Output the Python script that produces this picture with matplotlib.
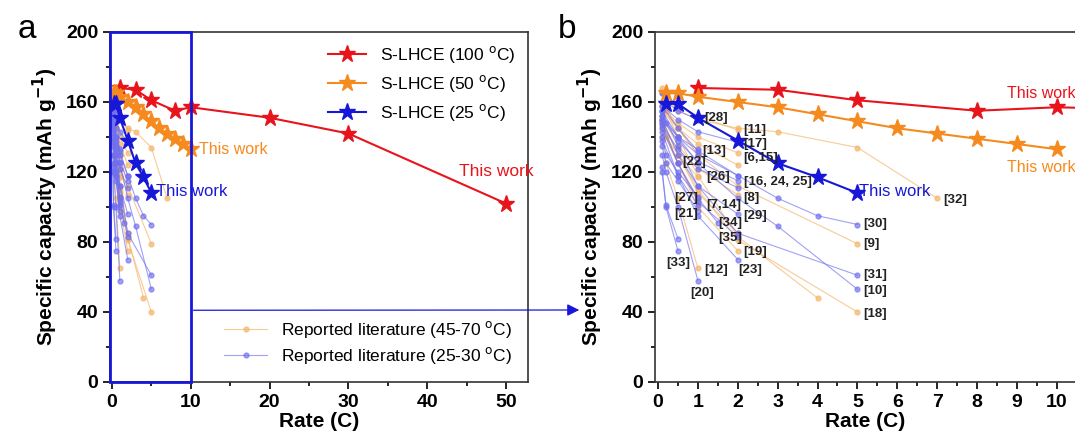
import numpy as np
import matplotlib
matplotlib.use("Agg")
import matplotlib.pyplot as plt
from matplotlib.patches import Rectangle
from matplotlib.ticker import MultipleLocator

plt.rcParams['font.family'] = ['Liberation Sans', 'DejaVu Sans']

# S-LHCE (this work)
rate_100 = [1, 3, 5, 8, 10, 20, 30, 50]
cap_100 = [168, 167, 161, 155, 157, 151, 142, 102]
rate_50 = [0.2, 0.5, 1, 2, 3, 4, 5, 6, 7, 8, 9, 10]
cap_50 = [165, 165, 163, 160, 157, 153, 149, 145, 142, 139, 136, 133]
rate_25 = [0.2, 0.5, 1, 2, 3, 4, 5]
cap_25 = [159, 159, 151, 138, 125, 117, 108]

# reported literature, 45-70 C  (label, rates, capacities)
lit_hot = [
    ("[32]", [0.1, 0.2, 0.5, 1, 2, 3, 5, 7], [168, 162, 155, 150, 145, 143, 134, 105]),
    ("[11]", [0.1, 0.5, 1, 2], [165, 158, 152, 144]),
    ("[6,15]", [0.1, 0.2, 0.5, 1, 2], [160, 155, 148, 140, 131]),
    ("", [0.1, 0.5, 1, 2], [155, 145, 136, 124]),
    ("[22]", [0.1, 0.2, 0.5], [150, 140, 125]),
    ("", [0.1, 0.5, 1], [158, 145, 130]),
    ("[26]", [0.1, 0.2, 0.5, 1], [150, 140, 130, 117]),
    ("", [0.1, 0.5, 1], [145, 125, 104]),
    ("[8]", [0.1, 0.5, 1, 2], [152, 135, 122, 107]),
    ("", [0.1, 0.5, 1, 2], [150, 130, 108, 85]),
    ("[19]", [0.1, 0.5, 1, 2], [148, 125, 100, 75]),
    ("[12]", [0.1, 0.2, 0.5, 1], [140, 125, 105, 65]),
    ("[9]", [0.1, 0.5, 1, 2, 5], [160, 145, 130, 112, 79]),
    ("[33]", [0.2, 0.5, 1, 2, 4], [155, 140, 118, 83, 48]),
    ("[18]", [0.1, 0.5, 1, 2, 5], [150, 130, 110, 81, 40]),
]

# reported literature, 25-30 C
lit_rt = [
    ("[28]", [0.1, 0.2, 0.5, 1], [165, 160, 155, 150]),
    ("[17]", [0.1, 0.5, 1, 2], [158, 150, 143, 137]),
    ("[13]", [0.1, 0.2, 0.5, 1], [152, 148, 140, 133]),
    ("", [0.1, 0.5, 1, 2], [155, 140, 130, 118]),
    ("[16, 24, 25]", [0.1, 0.5, 1, 2], [150, 138, 126, 115]),
    ("", [0.1, 0.5, 1, 2], [147, 133, 122, 111]),
    ("[27]", [0.1, 0.2, 0.5, 1], [140, 130, 120, 106]),
    ("[7,14]", [0.1, 0.5, 1], [138, 118, 101]),
    ("[21]", [0.1, 0.2, 0.5, 1], [135, 125, 115, 98]),
    ("[34]", [0.1, 0.5, 1, 1.5], [145, 125, 105, 91]),
    ("[29]", [0.1, 0.5, 1, 2], [150, 130, 112, 96]),
    ("[35]", [0.1, 0.5, 1, 2], [148, 125, 103, 83]),
    ("[23]", [0.1, 0.5, 1, 2], [143, 118, 95, 70]),
    ("[20]", [0.1, 0.2, 0.5, 1], [130, 120, 100, 58]),
    ("[33]", [0.1, 0.2, 0.5], [120, 101, 82]),
    ("", [0.1, 0.2, 0.5], [123, 100, 75]),
    ("[30]", [0.1, 0.5, 1, 2, 3, 4, 5], [158, 145, 132, 118, 105, 95, 90]),
    ("[31]", [0.1, 0.5, 1, 2, 5], [155, 135, 112, 85, 61]),
    ("[10]", [0.1, 0.5, 1, 2, 3, 5], [152, 140, 125, 105, 89, 53]),
]

# label text positions in panel b (data coords)
label_pos = {
    "[28]": (1.15, 151), "[11]": (2.15, 144), "[17]": (2.15, 136), "[6,15]": (2.15, 128),
    "[13]": (1.1, 132), "[22]": (0.6, 126), "[16, 24, 25]": (2.15, 114), "[26]": (1.2, 117),
    "[8]": (2.15, 105), "[27]": (0.4, 105), "[7,14]": (1.2, 101), "[21]": (0.4, 96),
    "[34]": (1.5, 91), "[29]": (2.15, 95), "[35]": (1.5, 82), "[19]": (2.15, 74),
    "[12]": (1.15, 64), "[23]": (2.0, 64), "[20]": (0.8, 51), "[33]": (0.2, 68),
    "[30]": (5.15, 90), "[9]": (5.15, 79), "[31]": (5.15, 61), "[10]": (5.15, 52),
    "[18]": (5.15, 39), "[32]": (7.15, 104),
}

red = '#e8141c'
orange = '#f58a1f'
blue = '#1717d8'
lit_orange = '#f5b66b'
lit_blue = '#6f6ff0'

fig = plt.figure(figsize=(10.75, 4.43), dpi=100)
ax_a = fig.add_axes([110/1075, 61/443, 418/1075, 350/443])
ax_b = fig.add_axes([655/1075, 61/443, 421/1075, 350/443])


def draw_lit(ax):
    for i, (lab, r, c) in enumerate(lit_hot):
        ax.plot(r, c, '-o', color=lit_orange, lw=0.8, ms=3.5, alpha=0.7,
                label='Reported literature (45-70 $^\\mathrm{o}$C)' if i == 0 else None)
    for i, (lab, r, c) in enumerate(lit_rt):
        ax.plot(r, c, '-o', color=lit_blue, lw=0.8, ms=3.5, alpha=0.65,
                label='Reported literature (25-30 $^\\mathrm{o}$C)' if i == 0 else None)


def draw_work(ax):
    l1, = ax.plot(rate_100, cap_100, '-*', color=red, lw=1.5, ms=12.5, label='S-LHCE (100 $^\\mathrm{o}$C)')
    l2, = ax.plot(rate_50, cap_50, '-*', color=orange, lw=1.5, ms=12.5, label='S-LHCE (50 $^\\mathrm{o}$C)')
    l3, = ax.plot(rate_25, cap_25, '-*', color=blue, lw=1.5, ms=12.5, label='S-LHCE (25 $^\\mathrm{o}$C)')
    return [l1, l2, l3]


for ax in (ax_a, ax_b):
    draw_lit(ax)

work = draw_work(ax_a)
draw_work(ax_b)

ax_a.set_xlim(-0.25, 52.8)
ax_a.xaxis.set_major_locator(MultipleLocator(10))
ax_a.xaxis.set_minor_locator(MultipleLocator(5))
ax_b.set_xlim(-0.075, 10.48)
ax_b.xaxis.set_major_locator(MultipleLocator(1))
ax_b.xaxis.set_minor_locator(MultipleLocator(0.5))

for ax in (ax_a, ax_b):
    ax.set_ylim(0, 200)
    ax.yaxis.set_major_locator(MultipleLocator(40))
    ax.yaxis.set_minor_locator(MultipleLocator(20))
    ax.tick_params(which='both', direction='out', width=1.2)
    ax.tick_params(which='major', length=5, labelsize=14)
    ax.tick_params(which='minor', length=3)
    for s in ax.spines.values():
        s.set_linewidth(1.2)
        s.set_color('#333333')
    ax.set_xlabel('Rate (C)', fontsize=15, fontweight='bold', labelpad=1)
    ax.set_ylabel('Specific capacity (mAh g$^{\\mathbf{-1}}$)', fontsize=15, fontweight='bold', labelpad=4)
    for lbl in ax.get_xticklabels() + ax.get_yticklabels():
        lbl.set_fontweight('bold')

# legends in panel a
leg1 = ax_a.legend(handles=work, loc='upper right', fontsize=12.5, frameon=False,
                   handlelength=2.2, borderaxespad=0.3, labelspacing=0.45)
ax_a.add_artist(leg1)
lit_handles = [ax_a.lines[0], ax_a.lines[len(lit_hot)]]
ax_a.legend(handles=lit_handles, loc='lower right', fontsize=12.5, frameon=False,
            handlelength=2.5, borderaxespad=0.5, labelspacing=0.3)

# "This work" labels
ax_a.text(44, 118, 'This work', color=red, fontsize=12.5)
ax_a.text(11, 130, 'This work', color=orange, fontsize=11.5)
ax_a.text(5.6, 106, 'This work', color=blue, fontsize=12)
ax_b.text(8.75, 162, 'This work', color=red, fontsize=11.5)
ax_b.text(8.75, 120, 'This work', color=orange, fontsize=11.5)
ax_b.text(5.05, 106, 'This work', color=blue, fontsize=12)

# reference labels in panel b
for lab, pos in label_pos.items():
    ax_b.text(pos[0], pos[1], lab, fontsize=9.5, fontweight='bold', color='#222222',
              va='center', clip_on=False)

# zoom box and arrow
ax_a.add_patch(Rectangle((-0.25, 0), 10.25, 200, fill=False, edgecolor=blue, lw=2, clip_on=False, zorder=5))
ax_a.annotate('', xy=(582/1075, (443-310)/443), xycoords='figure fraction',
              xytext=(10, 41), textcoords='data',
              arrowprops=dict(arrowstyle='-|>', color=blue, lw=0.9, mutation_scale=18),
              annotation_clip=False)

fig.text(18/1075, 1 - 30/443, 'a', fontsize=24, va='center')
fig.text(558/1075, 1 - 30/443, 'b', fontsize=24, va='center')

fig.savefig('out.png', dpi=100)
